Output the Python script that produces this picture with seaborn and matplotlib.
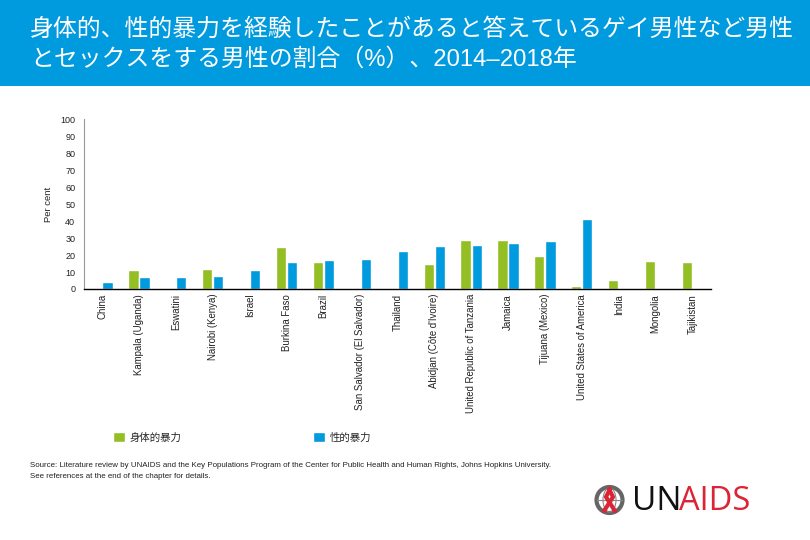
import numpy as np
import pandas as pd
import matplotlib
matplotlib.use("Agg")
import matplotlib.pyplot as plt
from matplotlib.patches import Rectangle, Circle, Ellipse
import seaborn as sns

title_lines = ["身体的、性的暴力を経験したことがあると答えているゲイ男性など男性",
               "とセックスをする男性の割合（%）、2014–2018年"]
categories = ["China", "Kampala (Uganda)", "Eswatini", "Nairobi (Kenya)", "Israel",
              "Burkina Faso", "Brazil", "San Salvador (El Salvador)", "Thailand",
              "Abidjan (Côte d'Ivoire)", "United Republic of Tanzania", "Jamaica",
              "Tijuana (Mexico)", "United States of America", "India", "Mongolia", "Tajikistan"]
physical = [np.nan, 11.2, np.nan, 11.8, np.nan, 24.7, 15.9, np.nan, np.nan,
            14.9, 29.0, 29.0, 19.6, 2.0, 5.5, 16.7, 16.0]
sexual = [4.1, 7.0, 7.0, 7.6, 11.2, 15.9, 17.0, 17.6, 22.5,
          25.5, 26.0, 27.2, 28.4, 41.4, np.nan, np.nan, np.nan]
series_names = ["身体的暴力", "性的暴力"]
source_lines = ["Source: Literature review by UNAIDS and the Key Populations Program of the Center for Public Health and Human Rights, Johns Hopkins University.",
                "See references at the end of the chapter for details."]

GREEN, BLUE, RED = "#93BE24", "#009ADE", "#DB2434"
CJK = ["Noto Sans CJK JP", "DejaVu Sans"]
TITLE_FONT = ["Liberation Sans", "Noto Sans CJK JP", "DejaVu Sans"]
sns.set_theme(style="white")
plt.rcParams["font.family"] = ["Liberation Sans", "Noto Sans CJK JP", "DejaVu Sans"]

W, H = 810, 540
fig = plt.figure(figsize=(W / 100, H / 100), dpi=100, facecolor="white")

# overlay in pixel coordinates
ov = fig.add_axes([0, 0, 1, 1], zorder=0)
ov.set_xlim(0, W); ov.set_ylim(H, 0); ov.axis("off")
ov.add_patch(Rectangle((0, 0), W, 85.5, color=BLUE, lw=0))
ov.text(30, 29, title_lines[0], color="white", fontsize=17.2, family=TITLE_FONT, va="center", ha="left")
ov.text(30, 59, title_lines[1], color="white", fontsize=17.2, family=TITLE_FONT, va="center", ha="left")
for i, line in enumerate(source_lines):
    ov.text(30, 465.5 + i * 10.5, line, fontsize=5.7, color="#222222", va="center", ha="left")

# logo
ov.add_patch(Circle((609.5, 500), 13, fc="none", ec="#666666", lw=3))
ov.add_patch(Ellipse((609.5, 500), 13, 24, fc="none", ec="#888888", lw=0.8))
ov.plot([597, 622], [500, 500], color="#888888", lw=0.8)
ov.plot([609, 613, 604], [489, 497, 511], color=RED, lw=3, solid_capstyle="round")
ov.plot([610, 606, 615], [489, 497, 511], color=RED, lw=3, solid_capstyle="round")
ov.text(632, 502, "UN", fontsize=24, color="#111111", va="center", ha="left", family="Open Sans")
ov.text(679, 502, "AIDS", fontsize=23.5, color=RED, va="center", ha="left", family="Open Sans")

# chart
ax = fig.add_axes([83.6 / W, 1 - 289 / H, (711 - 83.6) / W, (289 - 119.3) / H], zorder=1)
ax.patch.set_alpha(0)
df = pd.DataFrame({"category": categories * 2,
                   "value": physical + sexual,
                   "series": [series_names[0]] * len(categories) + [series_names[1]] * len(categories)})
sns.barplot(data=df, x="category", y="value", hue="series", order=categories,
            hue_order=series_names, palette=[GREEN, BLUE], width=0.6, gap=0.08,
            saturation=1, ax=ax, legend=True)
ax.set_ylim(0, 100)
ax.set_xlim(-0.5, len(categories) - 0.5)
ax.set_yticks(range(0, 101, 10))
ax.tick_params(axis="y", length=0, labelsize=6.5, pad=6, colors="#222222")
ax.tick_params(axis="x", length=0, labelsize=6.9, pad=3.5, colors="#222222")
ax.set_xticks(range(len(categories)))
ax.set_xticklabels(categories, rotation=90, ha="center", va="top")
ax.set_xlabel("")
ax.set_ylabel("Per cent", fontsize=6.8, color="#222222", labelpad=5)
for s in ("top", "right"):
    ax.spines[s].set_visible(False)
ax.spines["left"].set_color("#999999"); ax.spines["left"].set_linewidth(0.8)
ax.spines["bottom"].set_color("black"); ax.spines["bottom"].set_linewidth(1)

sns.move_legend(ax, loc="center left", bbox_to_anchor=((113 - 83.6) / (711 - 83.6), (289 - 437.5) / (289 - 119.3)),
                ncol=2, frameon=False, title=None, handlelength=1.15, handleheight=1.15,
                handletextpad=0.4, columnspacing=12.7, borderpad=0, borderaxespad=0,
                prop={"family": CJK, "size": 7.5})

fig.savefig("out.png", dpi=100, facecolor="white")
